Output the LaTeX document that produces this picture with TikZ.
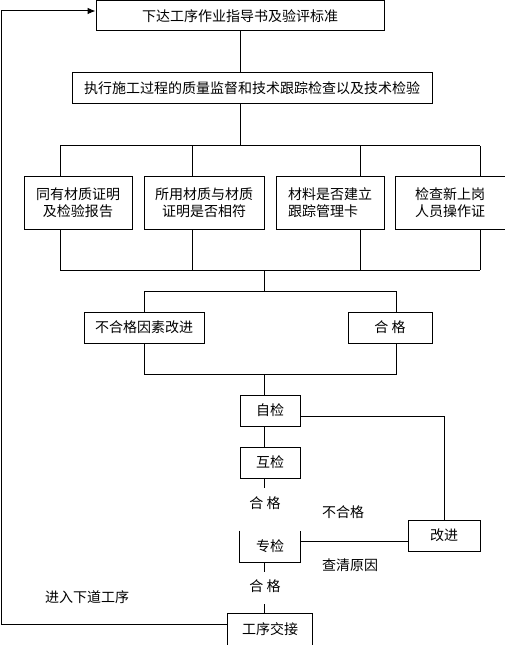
\documentclass[tikz,border=0pt]{standalone}
\usepackage{fontspec}
\newfontfamily\cjk{Noto Sans CJK SC}
\usetikzlibrary{arrows.meta}
\begin{document}
\begin{tikzpicture}[x=0.75pt,y=-0.75pt,line width=0.75pt,
  every node/.style={font=\cjk\fontsize{10.5}{12.75}\selectfont,inner sep=0pt},
  bx/.style={draw,rectangle,align=center},
  plain/.style={rectangle,align=center},
  lbl/.style={},
  fb/.style={-{Latex[length=6pt,width=5pt]}}]
\useasboundingbox (0,0) rectangle (504,645);
% boxes
\node[bx,minimum width=216pt,minimum height=22.5pt] (t) at (240,16) {下达工序作业指导书及验评标准};
\node[bx,minimum width=270pt,minimum height=23.25pt] (m) at (252,88.5) {执行施工过程的质量监督和技术跟踪检查以及技术检验};
\node[bx,minimum width=81pt,minimum height=39pt] (a) at (78,203) {同有材质证明\\及检验报告};
\node[bx,minimum width=90pt,minimum height=39pt] (b) at (204,203) {所用材质与材质\\证明是否相符};
\node[bx,align=left,minimum width=81pt,minimum height=39pt] (c) at (330,203) {材料是否建立\\跟踪管理卡};
\node[plain,minimum width=81pt,minimum height=39pt] (d) at (450,203) {检查新上岗\\人员操作证};
\draw (d.north east) -- (d.north west) -- (d.south west) -- (d.south east);
\node[bx,minimum width=90pt,minimum height=23.25pt] (n) at (144,327.5) {不合格因素改进};
\node[bx,minimum width=63pt,minimum height=23.25pt] (p) at (390,327.5) {合 格};
\node[bx,minimum width=45pt,minimum height=23.25pt] (zi) at (270,410.5) {自检};
\node[bx,minimum width=45pt,minimum height=23.25pt] (hj) at (270,462.5) {互检};
\node[plain,minimum width=45pt,minimum height=23.25pt] (zj) at (270,546.5) {专检};
\draw (zj.north west) -- (zj.south west) -- (zj.south east) -- (zj.north east);
\node[bx,minimum width=54pt,minimum height=23.25pt] (gj) at (444,535.5) {改进};
\node[plain,minimum width=63pt,minimum height=23.25pt] (gx) at (270,629.5) {工序交接};
\draw (gx.south west) -- (gx.north west) -- (gx.north east) -- (gx.south east);
% labels
\node[lbl] (ok1) at (265,503) {合 格};
\node[lbl] (ok2) at (265,586) {合 格};
\node[lbl] (nx) at (87,597) {进入下道工序};
\node[lbl] (bhg) at (343,512) {不合格};
\node[lbl] (cq) at (350,565) {查清原因};
% coordinates
\coordinate (s1) at (240,146);
\coordinate (u1) at (60,146);
\coordinate (u2) at (192,146);
\coordinate (u3) at (360,146);
\coordinate (u4) at (480,146);
\coordinate (l1) at (60,270);
\coordinate (l2) at (192,270);
\coordinate (l3) at (360,270);
\coordinate (l4) at (480,270);
\coordinate (lc) at (264,270);
\coordinate (v1) at (144,291);
\coordinate (v2) at (396,291);
\coordinate (w1) at (144,374);
\coordinate (w2) at (396,374);
\coordinate (wc) at (264,374);
\coordinate (g1) at (264,488);
\coordinate (g2) at (264,572);
\coordinate (g3) at (264,604);
\coordinate (r1) at (300,416);
\coordinate (r2) at (444,416);
\coordinate (r3) at (300,541);
\coordinate (f0) at (228,624);
\coordinate (fa) at (1,624);
\coordinate (fb) at (1,11);
% connectors
\draw (t.south) -- (t.south |- m.north);
\draw (m.south -| s1) -- (s1);
\draw (u1) -- (u4);
\draw (u1) -- (u1 |- a.north);
\draw (u2) -- (u2 |- b.north);
\draw (u3) -- (u3 |- c.north);
\draw (u4) -- (u4 |- d.north);
\draw (u1 |- a.south) -- (l1);
\draw (u2 |- b.south) -- (l2);
\draw (u3 |- c.south) -- (l3);
\draw (u4 |- d.south) -- (l4);
\draw (l1) -- (l4);
\draw (lc) -- (lc |- v1);
\draw (v1) -- (v2);
\draw (v1) -- (n.north);
\draw (v2) -- (v2 |- p.north);
\draw (n.south) -- (w1) -- (w2) -- (w2 |- p.south);
\draw (wc) -- (wc |- zi.north);
\draw (zi.south -| wc) -- (hj.north -| wc);
\draw (hj.south -| wc) -- (g1);
\draw (zj.south -| wc) -- (g2);
\draw (g3) -- (gx.north -| wc);
\draw (r1) -- (r2) -- (gj.north);
\draw (r3) -- (gj.west |- r3);
\draw[fb] (f0) -- (fa) -- (fb) -- (t.west |- fb);
\end{tikzpicture}
\end{document}
